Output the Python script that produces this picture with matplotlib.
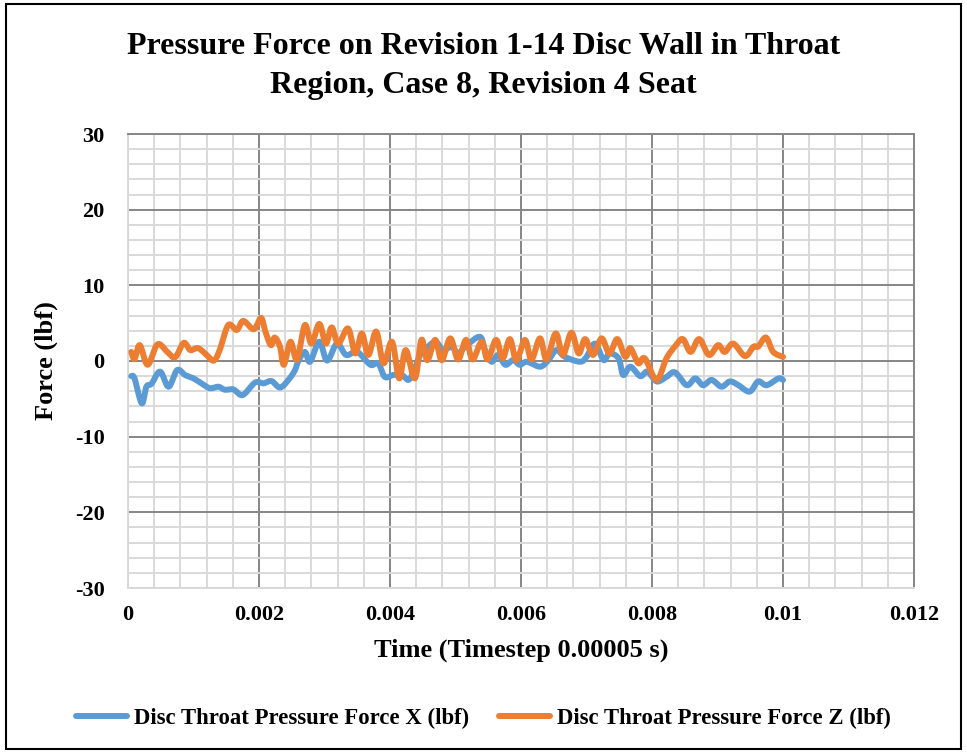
import matplotlib
matplotlib.use("Agg")
import numpy as np
import matplotlib.pyplot as plt
from matplotlib.ticker import MultipleLocator, FixedLocator
from matplotlib.patches import Rectangle
from matplotlib.lines import Line2D

plt.rcParams['font.family'] = ['Liberation Serif', 'DejaVu Serif']
plt.rcParams['font.weight'] = 'bold'
plt.rcParams['axes.unicode_minus'] = False

# Time (s) and force (lbf) samples for the X component
time_x = [0.00005, 0.0001, 0.00021, 0.00028, 0.00036, 0.00049, 0.00062, 0.00075,
          0.00087, 0.001, 0.00113, 0.00125, 0.00138, 0.00148, 0.00161, 0.00175,
          0.00194, 0.00207, 0.00219, 0.00232, 0.00245, 0.00255, 0.0026, 0.0027,
          0.00278, 0.00292, 0.00304, 0.00319, 0.00333, 0.0035, 0.0037, 0.00382,
          0.00392, 0.00405, 0.00418, 0.00428, 0.00436, 0.00446, 0.00453, 0.00469,
          0.00481, 0.00494, 0.00504, 0.00515, 0.00537, 0.00545, 0.00555, 0.00565,
          0.00576, 0.00588, 0.00598, 0.00609, 0.00629, 0.00642, 0.00654, 0.00667,
          0.0069, 0.007, 0.00713, 0.00726, 0.00735, 0.00749, 0.00756, 0.00767,
          0.00782, 0.00793, 0.00807, 0.00822, 0.00835, 0.00853, 0.00866, 0.00878,
          0.00891, 0.00906, 0.00919, 0.00932, 0.00949, 0.00962, 0.00975, 0.00993,
          0.01]
force_x = [-2.0, -2.3, -5.6, -3.4, -3.0, -1.4, -3.4, -1.2,
           -1.85, -2.3, -3.0, -3.6, -3.4, -3.8, -3.75, -4.5,
           -2.85, -2.95, -2.65, -3.5, -2.5, -1.2, 0.0, 1.2,
           -0.1, 2.55, 0.05, 2.3, 0.8, 1.2, -0.5, -0.3,
           -2.1, -1.85, -1.85, -2.5, -1.4, 0.8, 1.45, 2.55,
           1.45, 1.9, 1.0, 1.9, 3.2, 1.45, -0.1, 0.8,
           -0.5, 0.13, -0.5, -0.1, -0.75, 0.13, 1.45, 0.55,
           -0.1, 0.55, 2.3, 0.13, 1.0, 0.35, -1.85, -0.75,
           -2.0, -1.4, -2.7, -2.1, -1.5, -3.2, -2.3, -3.2,
           -2.5, -3.4, -2.7, -3.2, -4.05, -2.7, -3.2, -2.3,
           -2.5]

# Time (s) and force (lbf) samples for the Z component
time_z = [0.00005, 0.0001, 0.00018, 0.0003, 0.00045, 0.0006, 0.00072, 0.00085,
          0.00095, 0.00107, 0.0012, 0.00131, 0.0014, 0.00153, 0.00166, 0.00176,
          0.00192, 0.00203, 0.00209, 0.00218, 0.00224, 0.00232, 0.00238, 0.00248,
          0.00258, 0.0027, 0.0028, 0.00292, 0.00302, 0.00311, 0.00321, 0.00336,
          0.00347, 0.00357, 0.00367, 0.00379, 0.0039, 0.00403, 0.00414, 0.00424,
          0.00438, 0.00448, 0.00457, 0.00469, 0.00479, 0.00492, 0.00504, 0.00516,
          0.00526, 0.0054, 0.00549, 0.00562, 0.00572, 0.00583, 0.00593, 0.00606,
          0.00616, 0.00629, 0.00639, 0.00653, 0.00664, 0.00677, 0.00688, 0.00698,
          0.0071, 0.00723, 0.00735, 0.00747, 0.00759, 0.00767, 0.00779, 0.00789,
          0.00807, 0.00822, 0.00835, 0.00847, 0.00859, 0.00872, 0.00887, 0.00901,
          0.00911, 0.00924, 0.00942, 0.00955, 0.00962, 0.00974, 0.00985, 0.01]
force_z = [1.2, 0.26, 2.1, -0.5, 2.2, 1.2, 0.5, 2.4,
           1.45, 1.7, 0.8, 0.05, 1.45, 4.75, 4.1, 5.3,
           4.2, 5.7, 4.1, 2.1, 3.1, 1.9, -0.5, 2.55,
           0.2, 4.75, 2.3, 4.9, 2.3, 4.45, 2.3, 4.3,
           1.0, 3.65, 0.8, 3.9, -0.3, 2.55, -2.3, 1.45,
           -2.3, 2.8, 0.1, 2.8, 0.1, 3.0, 0.2, 2.8,
           0.2, 2.55, 0.2, 2.8, 0.35, 2.9, 0.1, 2.8,
           0.2, 3.0, 0.2, 3.65, 0.8, 3.75, 1.0, 2.9,
           0.8, 3.0, 1.0, 2.9, 0.55, 1.7, -0.3, 0.35,
           -2.5, 0.35, 1.9, 2.9, 1.2, 2.9, 0.8, 2.1,
           1.2, 2.3, 0.66, 1.9, 1.9, 3.1, 1.2, 0.55]

x_ticks = [0, 0.002, 0.004, 0.006, 0.008, 0.010, 0.012]
x_tick_labels = ['0', '0.002', '0.004', '0.006', '0.008', '0.01', '0.012']
y_ticks = [-30, -20, -10, 0, 10, 20, 30]

label_x = 'Disc Throat Pressure Force X (lbf)'
label_z = 'Disc Throat Pressure Force Z (lbf)'

BLUE = '#5B9BD5'
ORANGE = '#ED7D31'
MAJOR = '#868686'
MINOR = '#D9D9D9'
LW = 4.3


def smooth_path(xs, ys, steps=12):
    """Catmull-Rom curve through the given points (smoothed-line rendering)."""
    x = np.asarray(xs, float)
    y = np.asarray(ys, float)
    px = np.concatenate([[x[0]], x, [x[-1]]])
    py = np.concatenate([[y[0]], y, [y[-1]]])
    t = np.linspace(0, 1, steps, endpoint=False)
    out_x, out_y = [], []
    for i in range(1, len(px) - 2):
        p0x, p1x, p2x, p3x = px[i - 1:i + 3]
        p0y, p1y, p2y, p3y = py[i - 1:i + 3]
        t2, t3 = t * t, t * t * t
        out_x.append(0.5 * (2 * p1x + (-p0x + p2x) * t + (2 * p0x - 5 * p1x + 4 * p2x - p3x) * t2
                            + (-p0x + 3 * p1x - 3 * p2x + p3x) * t3))
        out_y.append(0.5 * (2 * p1y + (-p0y + p2y) * t + (2 * p0y - 5 * p1y + 4 * p2y - p3y) * t2
                            + (-p0y + 3 * p1y - 3 * p2y + p3y) * t3))
    out_x.append([x[-1]])
    out_y.append([y[-1]])
    return np.concatenate(out_x), np.concatenate(out_y)


fig = plt.figure(figsize=(9.67, 7.52), dpi=100)
ax = fig.add_axes([128 / 967, 1 - 588 / 752, (914 - 128) / 967, (588 - 134) / 752])

ax.set_xlim(0, 0.012)
ax.set_ylim(-30, 30)
ax.xaxis.set_major_locator(FixedLocator(x_ticks))
ax.set_xticklabels(x_tick_labels)
ax.yaxis.set_major_locator(FixedLocator(y_ticks))
ax.xaxis.set_minor_locator(MultipleLocator(0.0004))
ax.yaxis.set_minor_locator(MultipleLocator(2))

ax.grid(which='minor', color=MINOR, linewidth=1.4, zorder=0)
ax.grid(which='major', color=MAJOR, linewidth=1.4, zorder=1)
ax.set_axisbelow(True)

for side in ('left', 'bottom'):
    ax.spines[side].set_color(MINOR)
    ax.spines[side].set_linewidth(1.4)
for side in ('top', 'right'):
    ax.spines[side].set_color(MAJOR)
    ax.spines[side].set_linewidth(1.4)

ax.tick_params(which='both', length=0)
ax.tick_params(axis='x', pad=12, labelsize=16)
ax.tick_params(axis='y', pad=17, labelsize=16)
for lbl in ax.get_xticklabels() + ax.get_yticklabels():
    lbl.set_fontweight('bold')

sx, sy = smooth_path(time_x, force_x)
ax.plot(sx, sy, color=BLUE, linewidth=LW, solid_joinstyle='round',
        solid_capstyle='round', zorder=3)
sx, sy = smooth_path(time_z, force_z)
ax.plot(sx, sy, color=ORANGE, linewidth=LW, solid_joinstyle='round',
        solid_capstyle='round', zorder=4)

ax.set_xlabel('Time (Timestep 0.00005 s)', fontsize=19, fontweight='bold', labelpad=10)
ax.set_ylabel('Force (lbf)', fontsize=19, fontweight='bold', labelpad=12)

fig.text(0.5, 1 - 47 / 752, 'Pressure Force on Revision 1-14 Disc Wall in Throat',
         ha='center', va='center', fontsize=23, fontweight='bold')
fig.text(0.5, 1 - 86 / 752, 'Region, Case 8, Revision 4 Seat',
         ha='center', va='center', fontsize=23, fontweight='bold')

handles = [Line2D([], [], color=BLUE, linewidth=LW, solid_capstyle='round'),
           Line2D([], [], color=ORANGE, linewidth=LW, solid_capstyle='round')]
fig.legend(handles, [label_x, label_z], loc='center', bbox_to_anchor=(0.5, 1 - 718 / 752),
           ncol=2, frameon=False, handlelength=2.25, handletextpad=0.3, columnspacing=1.3,
           prop={'size': 16.4, 'weight': 'bold'})

fig.patches.append(Rectangle((6 / 967, 3 / 752), 955 / 967, 745 / 752,
                             transform=fig.transFigure, fill=False,
                             edgecolor='black', linewidth=1.5))

fig.savefig('out.png', dpi=100)
